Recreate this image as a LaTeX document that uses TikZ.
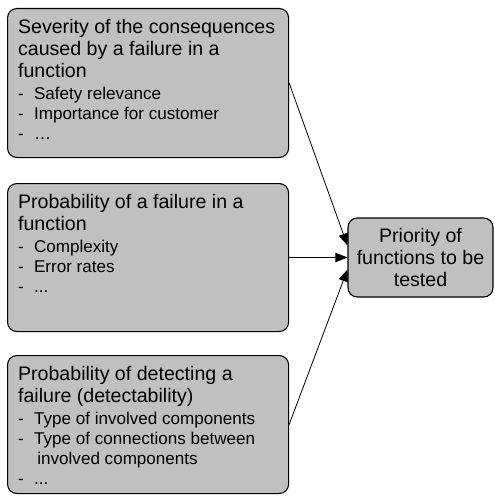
\documentclass[tikz,border=0pt]{standalone}
\usepackage{fontspec}
\setmainfont{Liberation Sans}
\usetikzlibrary{arrows.meta}

\definecolor{boxgrey}{HTML}{C0C0C0}

\newcommand{\headfont}{\fontsize{14.7}{16.5}\selectfont}
\newcommand{\itemfont}{\fontsize{12.8}{15}\selectfont}
\newcommand{\itm}[1]{\makebox[12pt][l]{-}#1}
% fixed height box, text at the top
\newcommand{\factortext}[3]{\parbox[c][#1][t]{195pt}{\raggedright\headfont #2\par\vspace{1.5pt}\itemfont #3\par}}

\begin{document}
\begin{tikzpicture}[
            x = 0.75pt, y = -0.75pt,
            factor/.style={draw, fill=boxgrey, rounded corners=7pt, line width=0.8pt,
                anchor=north west, inner xsep=7.9pt, inner ysep=8pt},
            result/.style={draw, fill=boxgrey, rounded corners=7pt, line width=0.8pt,
                align=center, minimum width=108.75pt, minimum height=59.25pt,
                inner sep=2pt, font=\headfont},
            link/.style={line width=0.6pt, -{Triangle[length=9pt, width=7pt]}},
            ]

        \useasboundingbox (0, 0) rectangle (494, 503);

        \node[factor] (sev) at (7, 8) {\factortext{95.75pt}
            {Severity of the consequences\\caused by a failure in a\\function}
            {\itm{Safety relevance}\\\itm{Importance for customer}\\\itm{\dots}}};
        \node[factor] (prob) at (7, 183) {\factortext{95pt}
            {Probability of a failure in a\\function}
            {\itm{Complexity}\\\itm{Error rates}\\\itm{...}}};
        \node[factor] (detect) at (7, 355) {\factortext{87.5pt}
            {Probability of detecting a\\failure (detectability)}
            {\itm{Type of involved components}\\\itm{Type of connections between}\\\hspace*{14.5pt}involved components\\\itm{...}}};

        \node[result] (prio) at (420.5, 257.5) {Priority of\\functions to be\\tested};

        \draw[link] (sev.east) -- ([yshift=9pt]prio.west);
        \draw[link] (prob.east) -- (prio.west);
        \draw[link] (detect.east) -- ([yshift=-9pt]prio.west);
    \end{tikzpicture}
\end{document}
